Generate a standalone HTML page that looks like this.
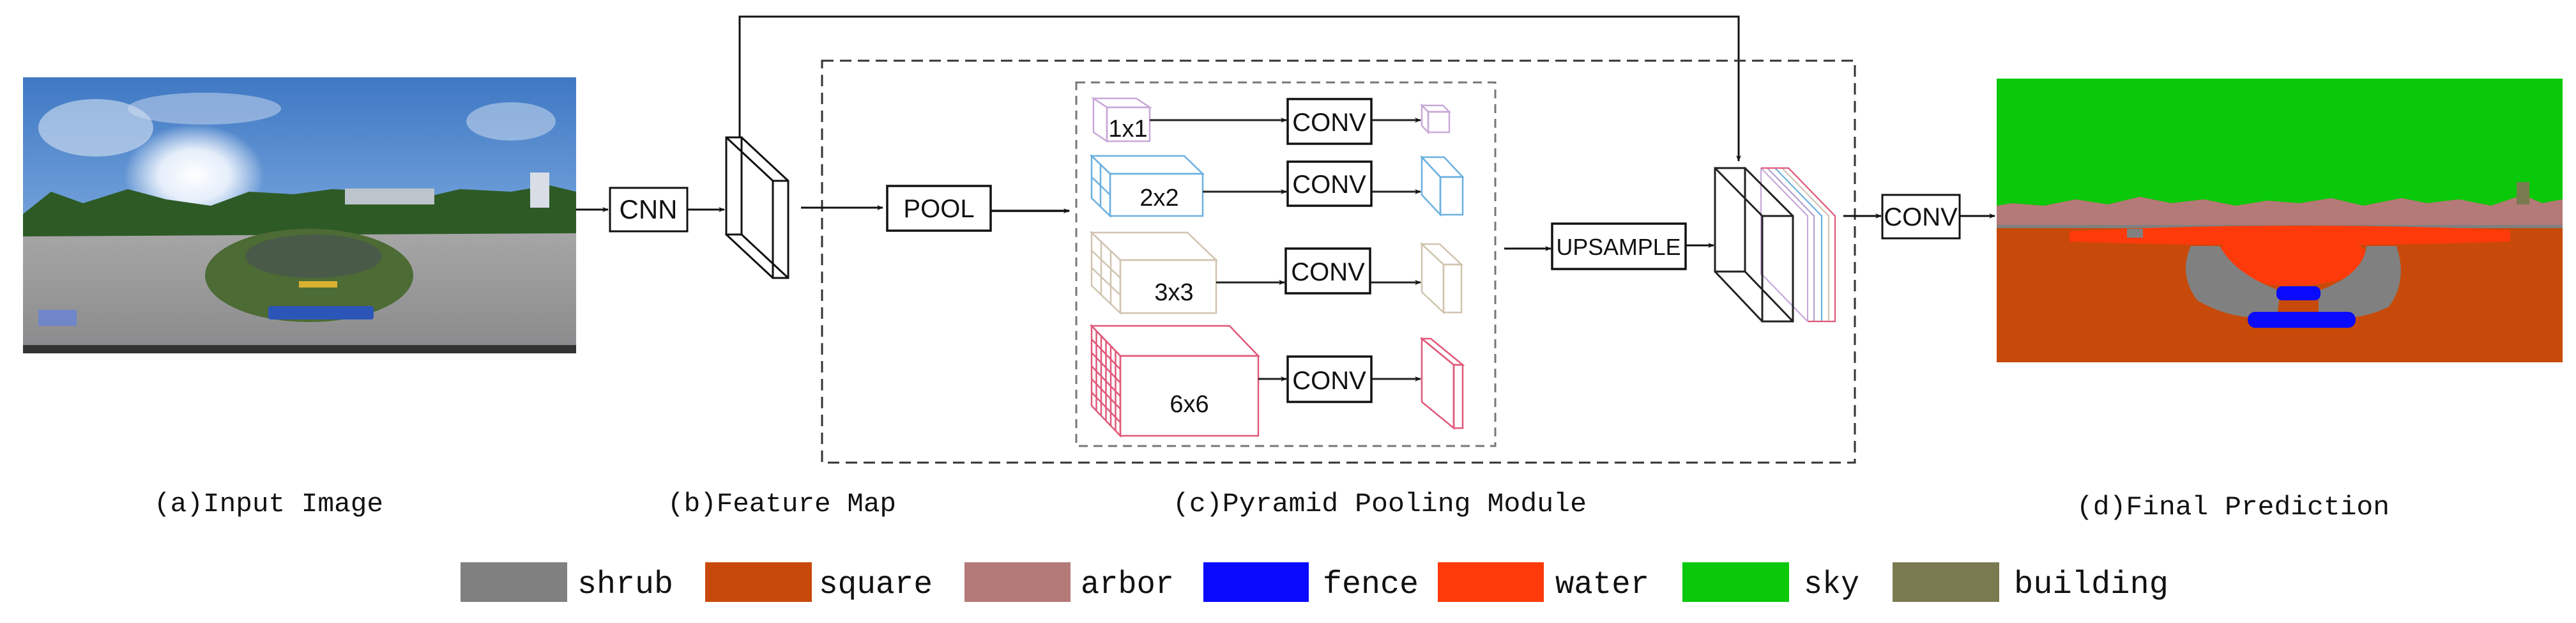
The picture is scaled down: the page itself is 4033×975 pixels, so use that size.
<!DOCTYPE html>
<html><head><meta charset="utf-8"><style>
html,body{margin:0;padding:0;background:#fff;}
svg{display:block;}
.t{font-family:"Liberation Mono",monospace;}
.b{font-family:"Liberation Sans",sans-serif;}
</style></head><body>
<svg width="4033" height="975" viewBox="0 0 4033 975" xmlns="http://www.w3.org/2000/svg">
<defs>
<marker id="ah" markerWidth="10" markerHeight="8" refX="9" refY="4" orient="auto" markerUnits="userSpaceOnUse" viewBox="0 0 10 8"><path d="M0,0 L10,4 L0,8 L3,4 Z" fill="#111"/></marker>
<linearGradient id="skyg" x1="0" y1="0" x2="0" y2="1"><stop offset="0" stop-color="#3f78c4"/><stop offset="0.6" stop-color="#7aa8de"/><stop offset="1" stop-color="#b8d0ea"/></linearGradient>
<radialGradient id="sun" cx="0.5" cy="0.5" r="0.5"><stop offset="0" stop-color="#fff"/><stop offset="0.5" stop-color="#f4f8ff" stop-opacity="0.9"/><stop offset="1" stop-color="#fff" stop-opacity="0"/></radialGradient>
<linearGradient id="grd" x1="0" y1="0" x2="0" y2="1"><stop offset="0" stop-color="#a8a8a8"/><stop offset="1" stop-color="#8a8a8c"/></linearGradient>
</defs>

<!-- Input photo -->
<rect x="36" y="121" width="866" height="432" fill="url(#skyg)"/>
<ellipse cx="150" cy="200" rx="90" ry="45" fill="#d6e2f2" opacity="0.6"/>
<ellipse cx="800" cy="190" rx="70" ry="30" fill="#d6e2f2" opacity="0.5"/>
<ellipse cx="320" cy="170" rx="120" ry="25" fill="#cfdcef" opacity="0.5"/>
<ellipse cx="304" cy="274" rx="110" ry="80" fill="url(#sun)"/>
<rect x="36" y="350" width="866" height="203" fill="url(#grd)"/>
<path d="M36,335 L80,300 L130,318 L200,296 L260,312 L330,322 L390,300 L460,304 L520,296 L600,300 L660,310 L720,296 L800,300 L860,290 L902,300 L902,365 L36,370 Z" fill="#2e5a26"/>
<rect x="540" y="295" width="140" height="25" fill="#bcc4cc"/>
<rect x="830" y="270" width="30" height="55" fill="#d8dde6"/>
<ellipse cx="484" cy="431" rx="163" ry="73" fill="#4d6b34"/>
<ellipse cx="491" cy="401" rx="107" ry="34" fill="#4a5a48"/>
<rect x="420" y="479" width="165" height="21" rx="4" fill="#2b56b8"/>
<rect x="468" y="440" width="60" height="10" fill="#d9b030"/>
<rect x="36" y="540" width="866" height="13" fill="#333"/>
<rect x="60" y="485" width="60" height="25" fill="#6f86c8"/>

<!-- CNN -->
<line x1="902" y1="328" x2="952" y2="328" stroke="#111" stroke-width="3" marker-end="url(#ah)"/>
<rect x="955" y="294" width="121" height="68" fill="#fff" stroke="#111" stroke-width="3"/>
<text x="1015" y="342" class="b" font-size="42" text-anchor="middle" fill="#111">CNN</text>
<line x1="1076" y1="328" x2="1134" y2="328" stroke="#111" stroke-width="3" marker-end="url(#ah)"/>

<!-- Feature map slab -->
<g fill="none" stroke="#111" stroke-width="3">
<rect x="1137" y="215" width="24" height="152"/>
<rect x="1210" y="283" width="24" height="152"/>
<line x1="1137" y1="215" x2="1210" y2="283"/><line x1="1161" y1="215" x2="1234" y2="283"/>
<line x1="1137" y1="367" x2="1210" y2="435"/><line x1="1161" y1="367" x2="1234" y2="435"/>
</g>
<!-- skip connection -->
<polyline points="1158,215 1158,26 2722,26 2722,252" fill="none" stroke="#111" stroke-width="3" marker-end="url(#ah)"/>

<!-- outer dashed -->
<rect x="1287" y="95" width="1617" height="629" fill="none" stroke="#333" stroke-width="3" stroke-dasharray="18,10"/>

<line x1="1254" y1="325" x2="1382" y2="325" stroke="#111" stroke-width="3" marker-end="url(#ah)"/>
<rect x="1389" y="291" width="162" height="70" fill="#fff" stroke="#111" stroke-width="3.5"/>
<text x="1470" y="340" class="b" font-size="40" text-anchor="middle" fill="#111">POOL</text>
<line x1="1551" y1="330" x2="1674" y2="330" stroke="#111" stroke-width="3.5" marker-end="url(#ah)"/>

<!-- inner dashed -->
<rect x="1685" y="129" width="656" height="569" fill="none" stroke="#777" stroke-width="3" stroke-dasharray="14,9"/>

<!-- cubes -->
<g fill="none" stroke-width="2.5">
<!-- 1x1 -->
<g stroke="#c8a8d8">
<polygon points="1712,154 1779,154 1800,168 1733,168"/>
<polygon points="1712,154 1733,168 1733,221 1712,207"/>
<rect x="1733" y="168" width="67" height="53"/>
</g>
<!-- 2x2 -->
<g stroke="#6ab0e0">
<polygon points="1709,244 1854,244 1883,272 1738,272"/>
<polygon points="1709,244 1738,272 1738,338 1709,310"/>
<rect x="1738" y="272" width="145" height="66"/>
<line x1="1723" y1="258" x2="1723" y2="324"/><line x1="1709" y1="277" x2="1738" y2="305"/>
</g>
<!-- 3x3 -->
<g stroke="#d0c4b0">
<polygon points="1709,364 1859,364 1904,407 1754,407"/>
<polygon points="1709,364 1754,407 1754,490 1709,447"/>
<rect x="1754" y="407" width="150" height="83"/>
<line x1="1724" y1="378" x2="1724" y2="461"/><line x1="1739" y1="393" x2="1739" y2="476"/>
<line x1="1709" y1="392" x2="1754" y2="435"/><line x1="1709" y1="419" x2="1754" y2="462"/>
</g>
<!-- 6x6 -->
<g stroke="#e05878">
<polygon points="1709,510 1925,510 1970,557 1754,557"/>
<polygon points="1709,510 1754,557 1754,682 1709,635"/>
<rect x="1754" y="557" width="216" height="125"/>
<line x1="1716.5" y1="518" x2="1716.5" y2="643"/><line x1="1724" y1="526" x2="1724" y2="651"/><line x1="1731.5" y1="533" x2="1731.5" y2="658"/><line x1="1739" y1="541" x2="1739" y2="666"/><line x1="1746.5" y1="549" x2="1746.5" y2="674"/>
<line x1="1709" y1="531" x2="1754" y2="578"/><line x1="1709" y1="552" x2="1754" y2="599"/><line x1="1709" y1="573" x2="1754" y2="620"/><line x1="1709" y1="593" x2="1754" y2="640"/><line x1="1709" y1="614" x2="1754" y2="661"/>
</g>
<!-- outputs -->
<g stroke="#c8a8d8">
<polygon points="2226,165 2259,165 2269,175 2236,175"/><polygon points="2226,165 2236,175 2236,207 2226,197"/><rect x="2236" y="175" width="33" height="32"/>
</g>
<g stroke="#6ab0e0">
<polygon points="2226,246 2261,246 2290,277 2255,277"/><polygon points="2226,246 2255,277 2255,336 2226,305"/><rect x="2255" y="277" width="35" height="59"/>
</g>
<g stroke="#d0c4b0">
<polygon points="2226,382 2254,382 2288,414 2260,414"/><polygon points="2226,382 2260,414 2260,489 2226,457"/><rect x="2260" y="414" width="28" height="75"/>
</g>
<g stroke="#e05878">
<polygon points="2226,530 2240,530 2290,571 2276,571"/><polygon points="2226,530 2276,571 2276,670 2226,629"/><rect x="2276" y="571" width="14" height="99"/>
</g>
</g>
<g class="b" font-size="38" fill="#111" text-anchor="middle">
<text x="1766" y="214">1x1</text>
<text x="1815" y="322">2x2</text>
<text x="1838" y="470">3x3</text>
<text x="1862" y="645">6x6</text>
</g>
<!-- arrows and CONVs -->
<g stroke="#222" stroke-width="3">
<line x1="1800" y1="188" x2="2014" y2="188" marker-end="url(#ah)"/>
<line x1="1883" y1="300" x2="2014" y2="300" marker-end="url(#ah)"/>
<line x1="1904" y1="442" x2="2011" y2="442" marker-end="url(#ah)"/>
<line x1="1970" y1="593" x2="2014" y2="593" marker-end="url(#ah)"/>
<line x1="2147" y1="188" x2="2224" y2="188" marker-end="url(#ah)"/>
<line x1="2147" y1="300" x2="2224" y2="300" marker-end="url(#ah)"/>
<line x1="2145" y1="442" x2="2224" y2="442" marker-end="url(#ah)"/>
<line x1="2147" y1="593" x2="2224" y2="593" marker-end="url(#ah)"/>
</g>
<g fill="#fff" stroke="#111" stroke-width="3.5">
<rect x="2016" y="155" width="131" height="70"/>
<rect x="2016" y="253" width="131" height="69"/>
<rect x="2013" y="389" width="132" height="70"/>
<rect x="2016" y="558" width="131" height="71"/>
</g>
<g class="b" font-size="40" fill="#111" text-anchor="middle">
<text x="2081" y="205">CONV</text>
<text x="2081" y="302">CONV</text>
<text x="2079" y="439">CONV</text>
<text x="2081" y="609">CONV</text>
</g>

<!-- upsample -->
<line x1="2355" y1="389" x2="2428" y2="389" stroke="#111" stroke-width="3" marker-end="url(#ah)"/>
<rect x="2430" y="350" width="209" height="71" fill="#fff" stroke="#111" stroke-width="3.5"/>
<text x="2534" y="399" class="b" font-size="36" text-anchor="middle" fill="#111" textLength="195" lengthAdjust="spacingAndGlyphs">UPSAMPLE</text>
<line x1="2639" y1="384" x2="2683" y2="384" stroke="#111" stroke-width="3" marker-end="url(#ah)"/>

<!-- concat block -->
<g fill="none" stroke-width="2.2">
<g stroke="#c8a8d8"><polyline points="2757,263 2830,338 2830,503"/><line x1="2757" y1="263" x2="2757" y2="430"/></g>
<g stroke="#b8a0d0"><polyline points="2767,263 2840,338 2840,503"/></g>
<g stroke="#6ab0e0"><polyline points="2779,263 2852,338 2852,503"/></g>
<g stroke="#d0c4b0"><polyline points="2790,263 2863,338 2863,503"/></g>
<g stroke="#e05878"><polyline points="2757,263 2800,263 2873,338 2873,503 2830,503"/></g>
<line x1="2759" y1="430" x2="2830" y2="503" stroke="#c8a8d8"/>
</g>
<g fill="none" stroke="#222" stroke-width="3">
<rect x="2685" y="263" width="47" height="162"/>
<rect x="2759" y="338" width="48" height="165"/>
<line x1="2685" y1="263" x2="2759" y2="338"/><line x1="2732" y1="263" x2="2807" y2="338"/>
<line x1="2685" y1="425" x2="2759" y2="503"/><line x1="2732" y1="425" x2="2807" y2="503"/>
</g>

<line x1="2886" y1="338" x2="2945" y2="338" stroke="#111" stroke-width="3" marker-end="url(#ah)"/>
<rect x="2947" y="305" width="121" height="68" fill="#fff" stroke="#111" stroke-width="3"/>
<text x="3007" y="353" class="b" font-size="40" text-anchor="middle" fill="#111">CONV</text>
<line x1="3068" y1="338" x2="3123" y2="338" stroke="#111" stroke-width="3" marker-end="url(#ah)"/>

<!-- prediction -->
<rect x="3126" y="123" width="886" height="444" fill="#c84a0a"/>
<path d="M3126,123 L4012,123 L4012,312 L3980,318 L3950,305 L3900,322 L3850,312 L3800,318 L3760,310 L3700,322 L3650,310 L3600,318 L3550,314 L3500,322 L3450,312 L3400,318 L3350,308 L3300,320 L3250,312 L3200,322 L3150,318 L3126,322 Z" fill="#0ac80a"/>
<path d="M3126,322 L3150,318 L3200,322 L3250,312 L3300,320 L3350,308 L3400,318 L3450,312 L3500,322 L3550,314 L3600,318 L3650,310 L3700,322 L3760,310 L3800,318 L3850,312 L3900,322 L3950,305 L3980,318 L4012,312 L4012,352 L3126,356 Z" fill="#b47a78"/>
<rect x="3126" y="352" width="886" height="5" fill="#808080"/>
<rect x="3940" y="285" width="20" height="35" fill="#7a7a50"/>
<path d="M3240,362 Q3580,345 3930,360 L3930,378 Q3580,390 3240,378 Z" fill="#ff3a0a"/>
<ellipse cx="3587" cy="405" rx="122" ry="42" fill="#ff3a0a"/>
<path d="M3430,385 Q3410,430 3440,470 Q3500,505 3565,495 L3570,455 Q3500,430 3475,385 Z" fill="#808080"/>
<path d="M3752,385 Q3770,440 3740,480 Q3690,505 3630,495 L3630,455 Q3700,430 3705,385 Z" fill="#808080"/>
<rect x="3564" y="448" width="69" height="22" rx="9" fill="#0a0aff"/>
<rect x="3519" y="488" width="169" height="25" rx="12" fill="#0a0aff"/>
<rect x="3330" y="358" width="25" height="14" fill="#808080"/>

<!-- captions -->
<g class="t" font-size="42" fill="#111">
<text x="241" y="800" textLength="359" lengthAdjust="spacingAndGlyphs">(a)Input Image</text>
<text x="1045" y="800" textLength="358" lengthAdjust="spacingAndGlyphs">(b)Feature Map</text>
<text x="1836" y="800" textLength="648" lengthAdjust="spacingAndGlyphs">(c)Pyramid Pooling Module</text>
<text x="3251" y="805" textLength="490" lengthAdjust="spacingAndGlyphs">(d)Final Prediction</text>
</g>

<!-- legend -->
<rect x="721" y="880" width="167" height="62" fill="#808080"/>
<rect x="1104" y="880" width="167" height="62" fill="#c84a0a"/>
<rect x="1510" y="880" width="166" height="62" fill="#b47a78"/>
<rect x="1884" y="880" width="165" height="62" fill="#0a0aff"/>
<rect x="2251" y="880" width="166" height="62" fill="#ff3a0a"/>
<rect x="2634" y="880" width="167" height="62" fill="#0ac80a"/>
<rect x="2963" y="880" width="167" height="62" fill="#7a7a50"/>
<g class="t" font-size="50" fill="#111">
<text x="904" y="928" textLength="150" lengthAdjust="spacingAndGlyphs">shrub</text>
<text x="1282" y="928" textLength="178" lengthAdjust="spacingAndGlyphs">square</text>
<text x="1692" y="928" textLength="146" lengthAdjust="spacingAndGlyphs">arbor</text>
<text x="2071" y="928" textLength="150" lengthAdjust="spacingAndGlyphs">fence</text>
<text x="2435" y="928" textLength="147" lengthAdjust="spacingAndGlyphs">water</text>
<text x="2824" y="928" textLength="87" lengthAdjust="spacingAndGlyphs">sky</text>
<text x="3153" y="928" textLength="242" lengthAdjust="spacingAndGlyphs">building</text>
</g>
</svg>
</body></html>
